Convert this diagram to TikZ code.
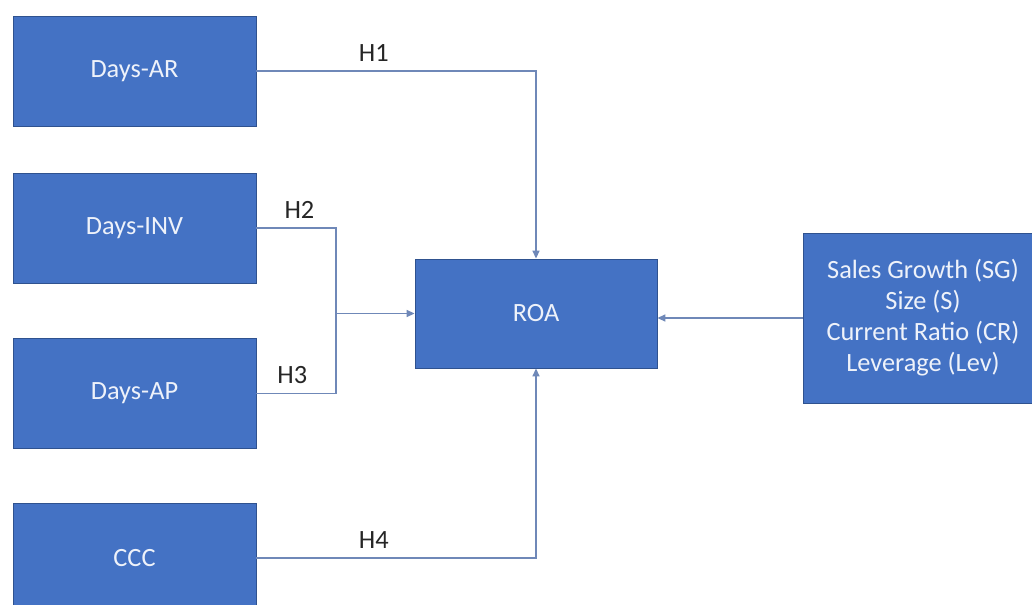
\documentclass[tikz,border=0pt]{standalone}
\usepackage{fontspec}
\setmainfont{Carlito}
\usepackage{xcolor}
\usepackage{tikz}
\usetikzlibrary{arrows.meta,positioning}
\definecolor{boxblue}{HTML}{4472C4}
\definecolor{boxedge}{HTML}{2F528F}
\definecolor{linkx}{HTML}{6F88B8}
\definecolor{txtx}{HTML}{EEF2FA}
\tikzset{
  box/.style={draw=boxedge,line width=0.5pt,fill=boxblue,text=txtx,align=center,
    minimum width=4.86cm,minimum height=2.2cm,inner sep=0pt,
    font=\fontsize{15}{17.6}\selectfont},
  ln/.style={linkx,line width=0.8pt},
  ar/.style={ln,-{Triangle[length=1.6mm,width=1.4mm]}},
  lbl/.style={above,inner sep=5pt,text=black!85,font=\fontsize{15}{18}\selectfont}
}
\begin{document}
\begin{tikzpicture}[x=0.02cm,y=-0.02cm]
\clip (0,0) rectangle (1032,605);
\fill[white] (0,0) rectangle (1032,605);
% left column
\node[box] (dar) at (134.5,71) {Days-AR};
\node[box] (dinv) at (134.5,228) {Days-INV};
\node[box] (dap) at (134.5,393.5) {Days-AP};
\node[box] (ccc) at (134.5,558) {CCC};
% centre and controls
\node[box,minimum width=4.84cm,minimum height=2.18cm] (roa) at (536,313.5) {ROA};
\node[box,minimum width=4.8cm,minimum height=3.4cm] (ctrl) at (923,318)
  {Sales Growth (SG)\\Size (S)\\Current Ratio (CR)\\Leverage (Lev)};
\coordinate (jn) at (336,313.5);
% links
\draw[ar] (dar.east) -| node[lbl,pos=0.21]{H1} (roa.north);
\draw[ln] (dinv.east) -| node[lbl,pos=0.27]{H2} (jn);
\draw[ln] (dap.east) -| node[lbl,pos=0.225]{H3} (jn);
\draw[ar] (jn) -- (roa.west);
\draw[ar] (ccc.east) -| node[lbl,pos=0.21]{H4} (roa.south);
\draw[ar] (ctrl.west) -- (ctrl.west -| roa.east);
\end{tikzpicture}
\end{document}
